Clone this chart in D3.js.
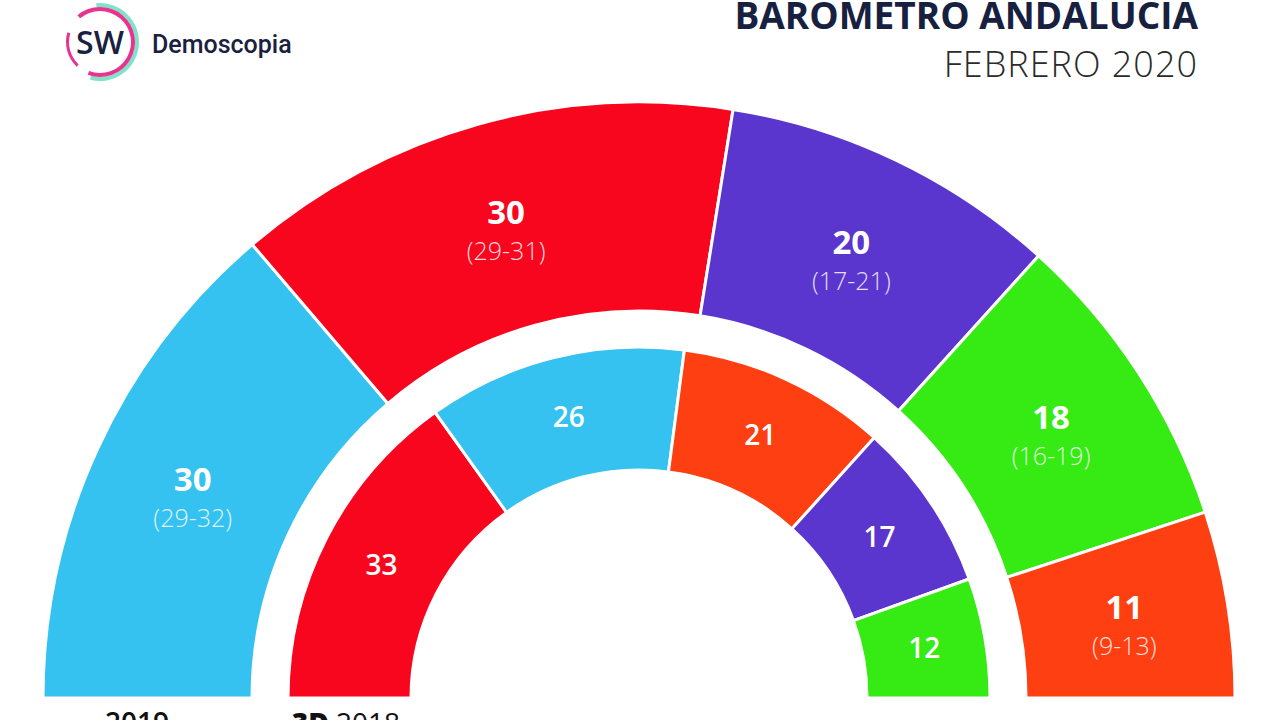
<!DOCTYPE html>
<html>
<head>
<meta charset="utf-8">
<script src="https://cdn.jsdelivr.net/npm/d3@7"></script>
<style>
  html, body { margin: 0; padding: 0; background: #fff; overflow: hidden; }
  svg { display: block; }
</style>
</head>
<body>
<svg id="chart" width="1280" height="720"></svg>
<script>
// ---- Data ----
const outerParties = ["PP", "PSOE", "Adelante", "Vox", "Cs"];
const outerSeats   = [30, 30, 20, 18, 11];
const outerRanges  = ["(29-32)", "(29-31)", "(17-21)", "(16-19)", "(9-13)"];
const outerColors  = ["#35c2f0", "#f7061e", "#5a36cf", "#36ea14", "#fd3f12"];

const innerParties = ["PSOE", "PP", "Cs", "Adelante", "Vox"];
const innerSeats   = [33, 26, 21, 17, 12];
const innerColors  = ["#f7061e", "#35c2f0", "#fd3f12", "#5a36cf", "#36ea14"];

const ringLabels = ["2019", "3D 2018"];
const titleText = "BAROMETRO ANDALUCIA";
const subtitleText = "FEBRERO 2020";

// ---- Layout ----
const svg = d3.select("#chart");
const cx = 639, cy = 698;
const outerR = [387, 596];
const innerR = [228, 351];

const pie = d3.pie().sort(null).startAngle(-Math.PI / 2).endAngle(Math.PI / 2);

const g = svg.append("g").attr("transform", `translate(${cx},${cy})`);

function drawRing(values, colors, radii, cls) {
  const arcs = pie(values);
  const arc = d3.arc().innerRadius(radii[0]).outerRadius(radii[1]);
  g.selectAll("path." + cls).data(arcs).join("path")
    .attr("class", cls)
    .attr("d", arc)
    .attr("fill", (d, i) => colors[i])
    .attr("stroke", "#fff")
    .attr("stroke-width", 3);
  return { arcs, arc };
}

const outer = drawRing(outerSeats, outerColors, outerR, "outer");
const inner = drawRing(innerSeats, innerColors, innerR, "inner");

// outer labels
const font = "'Open Sans', 'DejaVu Sans', sans-serif";
outer.arcs.forEach((d, i) => {
  const [x, y] = outer.arc.centroid(d);
  g.append("text")
    .attr("x", x).attr("y", y - 1)
    .attr("text-anchor", "middle")
    .attr("font-family", font)
    .attr("font-weight", 700)
    .attr("font-size", 33)
    .attr("fill", "#fff")
    .text(d.data);
  g.append("text")
    .attr("x", x).attr("y", y + 35)
    .attr("text-anchor", "middle")
    .attr("font-family", font)
    .attr("font-weight", 300)
    .attr("font-size", 25)
    .attr("fill", "#fff")
    .attr("fill-opacity", 0.85)
    .text(outerRanges[i]);
});

// inner labels
inner.arcs.forEach((d, i) => {
  const [x, y] = inner.arc.centroid(d);
  g.append("text")
    .attr("x", x).attr("y", y + 10)
    .attr("text-anchor", "middle")
    .attr("font-family", font)
    .attr("font-weight", 600)
    .attr("font-size", 28)
    .attr("fill", "#fff")
    .text(d.data);
});

// ring labels at bottom (cut by the frame, as in the original)
svg.append("text")
  .attr("x", 137)
  .attr("y", 733)
  .attr("text-anchor", "middle")
  .attr("font-family", font)
  .attr("font-weight", 600)
  .attr("font-size", 28)
  .attr("fill", "#111")
  .text(ringLabels[0]);

const t2 = svg.append("text")
  .attr("x", 346)
  .attr("y", 733)
  .attr("text-anchor", "middle")
  .attr("font-family", font)
  .attr("font-size", 28)
  .attr("fill", "#111");
t2.append("tspan").attr("font-weight", 800).text(ringLabels[1].split(" ")[0] + " ");
t2.append("tspan").attr("font-weight", 400).text(ringLabels[1].split(" ")[1]);

// title + subtitle
svg.append("text")
  .attr("x", 1198).attr("y", 29)
  .attr("text-anchor", "end")
  .attr("font-family", font)
  .attr("font-weight", 700)
  .attr("font-size", 37)
  .attr("fill", "#17213f")
  .text(titleText);
svg.append("text")
  .attr("x", 1198).attr("y", 77)
  .attr("text-anchor", "end")
  .attr("font-family", font)
  .attr("font-weight", 300)
  .attr("font-size", 36)
  .attr("letter-spacing", 1)
  .attr("fill", "#2a2a2a")
  .text(subtitleText);

// logo
const logo = svg.append("g").attr("transform", "translate(100,42)");
const logoArc = d3.arc();
logo.append("path")
  .attr("d", logoArc({ innerRadius: 35, outerRadius: 39, startAngle: -0.1, endAngle: 3.4 }))
  .attr("fill", "#7fe3c8");
logo.append("path")
  .attr("d", logoArc({ innerRadius: 31, outerRadius: 35, startAngle: -0.7, endAngle: 3.5 }))
  .attr("fill", "#e9348f");
logo.append("path")
  .attr("d", logoArc({ innerRadius: 31, outerRadius: 34, startAngle: 3.9, endAngle: 5.0 }))
  .attr("fill", "#e9348f");
logo.append("text")
  .attr("x", 0).attr("y", 12)
  .attr("text-anchor", "middle")
  .attr("font-family", font)
  .attr("font-weight", 600)
  .attr("font-size", 32)
  .attr("fill", "#1a2140")
  .text("SW");
svg.append("text")
  .attr("x", 152).attr("y", 53)
  .attr("font-family", "Roboto, 'Open Sans', sans-serif")
  .attr("font-weight", 500)
  .attr("font-size", 25)
  .attr("fill", "#1a2140")
  .text("Demoscopia");
</script>
</body>
</html>
